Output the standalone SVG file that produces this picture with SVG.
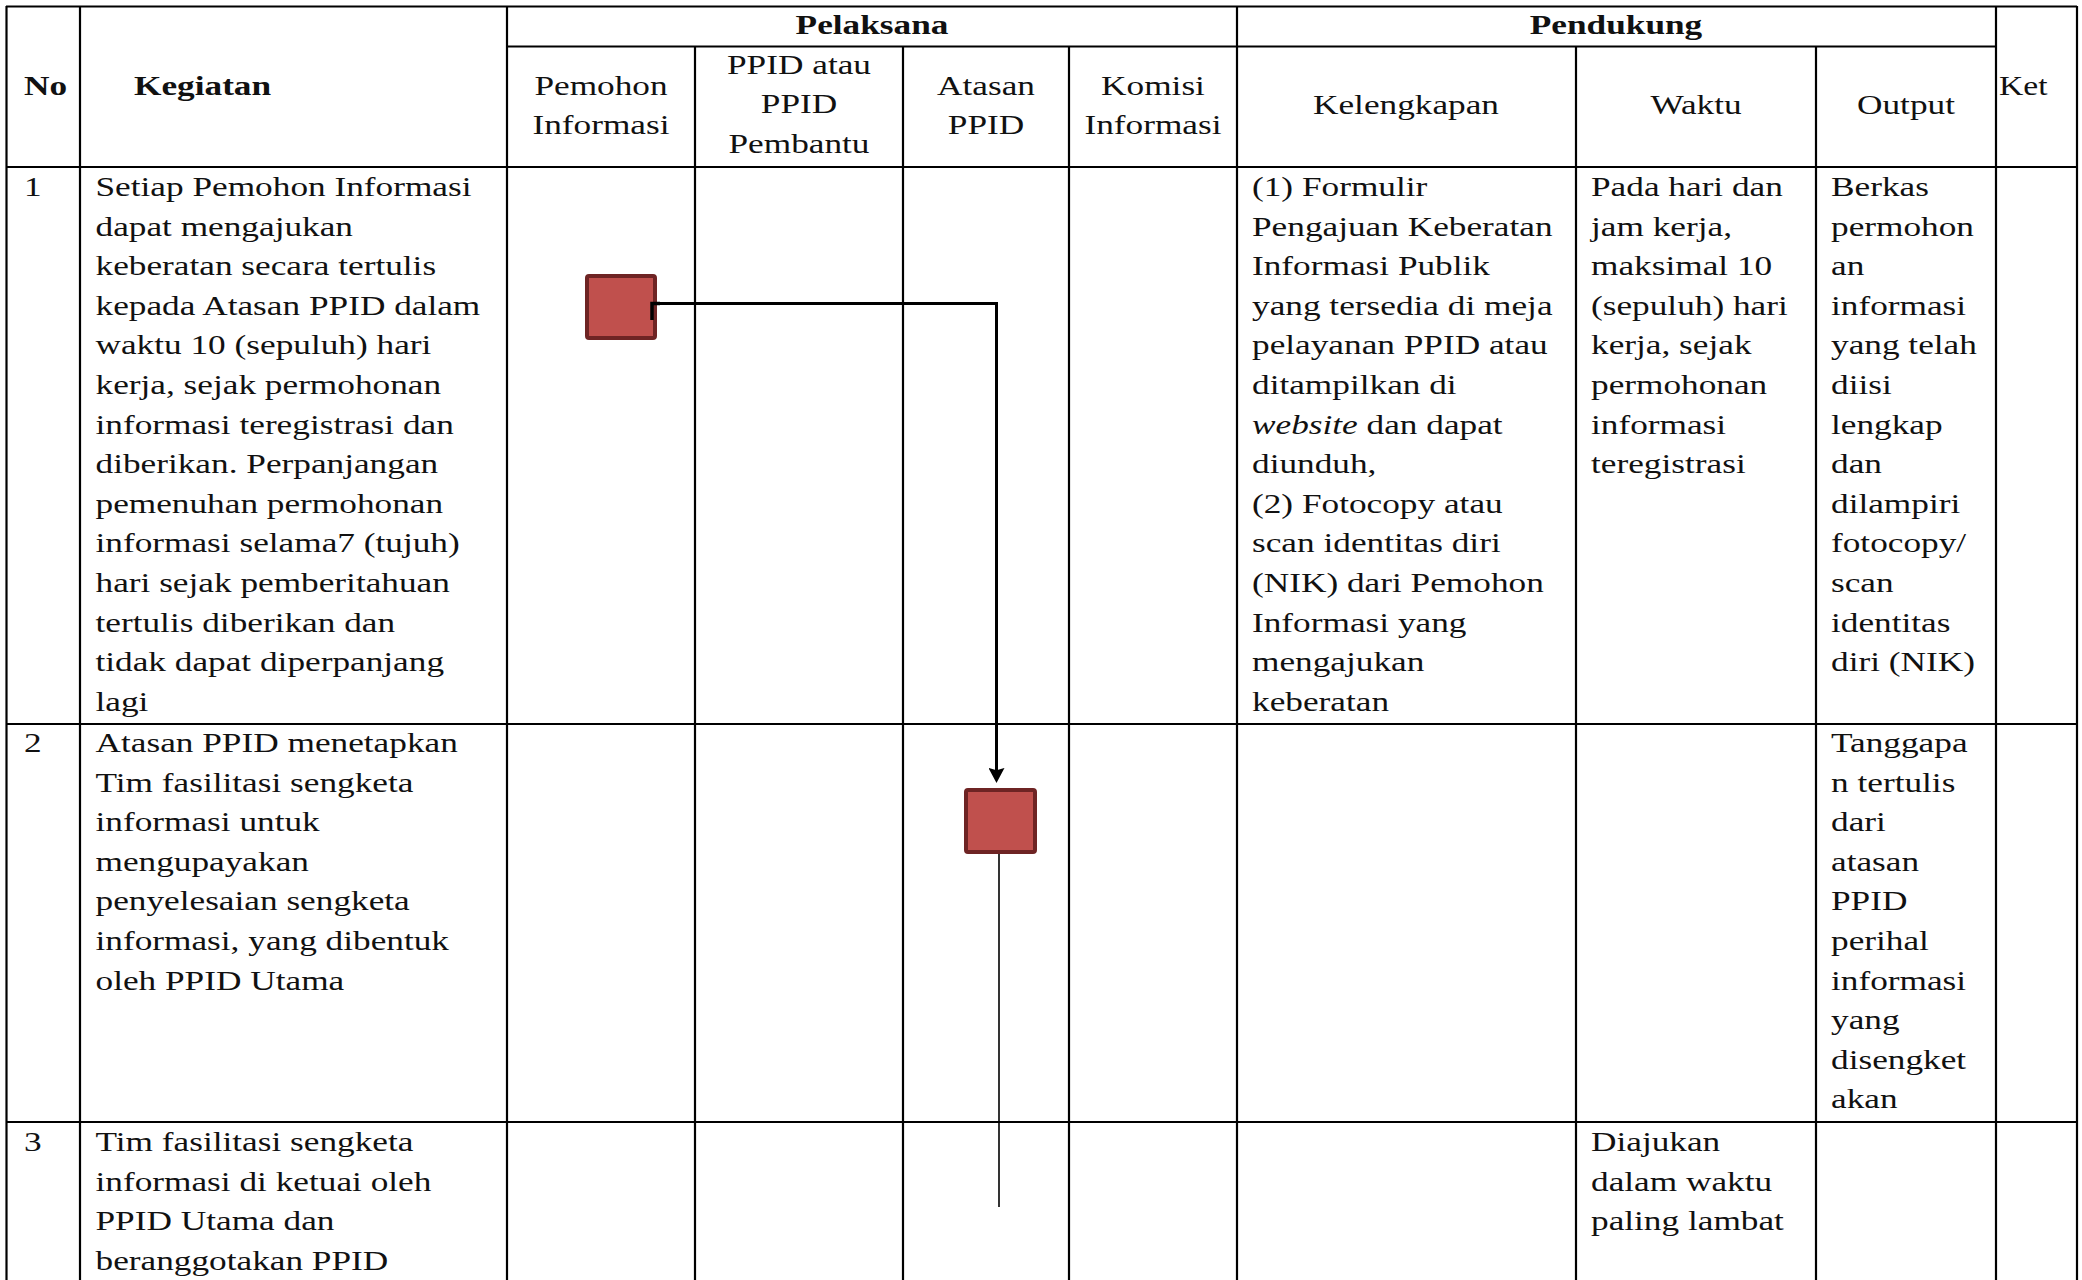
<svg xmlns="http://www.w3.org/2000/svg" width="2082" height="1280" viewBox="0 0 2082 1280">
<style>
  .grid line { stroke: #000; stroke-width: 2.2; }
  .t { font-family: "Liberation Serif", "Times New Roman", serif; font-size: 28px; fill: #111; }
  .b { font-weight: bold; }
  .box { fill: #C0504D; stroke: #6E2424; stroke-width: 4; }
  .conn { fill: none; stroke: #000; stroke-width: 3; }
</style>
<defs>
  <marker id="arrow" markerWidth="15" markerHeight="16" refX="4.7" refY="5" orient="auto" markerUnits="userSpaceOnUse" viewBox="0 0 10 10" preserveAspectRatio="none">
    <path d="M0,0 L10,5 L0,10 L1.5,5 z" fill="#000"/>
  </marker>
</defs>
<rect width="2082" height="1280" fill="#fff"/>

<g id="grid" class="grid">
  <line x1="6" y1="6.5" x2="2077" y2="6.5"/>
  <line x1="507" y1="46.5" x2="1996" y2="46.5"/>
  <line x1="6" y1="167" x2="2077" y2="167"/>
  <line x1="6" y1="724" x2="2077" y2="724"/>
  <line x1="6" y1="1122" x2="2077" y2="1122"/>
  <line x1="6.5" y1="6" x2="6.5" y2="1280"/>
  <line x1="80" y1="6" x2="80" y2="1280"/>
  <line x1="507" y1="6" x2="507" y2="1280"/>
  <line x1="695" y1="46.5" x2="695" y2="1280"/>
  <line x1="903" y1="46.5" x2="903" y2="1280"/>
  <line x1="1069" y1="46.5" x2="1069" y2="1280"/>
  <line x1="1237" y1="6" x2="1237" y2="1280"/>
  <line x1="1576" y1="46.5" x2="1576" y2="1280"/>
  <line x1="1816" y1="46.5" x2="1816" y2="1280"/>
  <line x1="1996" y1="6" x2="1996" y2="1280"/>
  <line x1="2077" y1="6" x2="2077" y2="1280"/>
</g>

<g id="header">
  <text class="t b" transform="translate(24,95) scale(1.26,1)">No</text>
  <text class="t b" transform="translate(134,95) scale(1.26,1)">Kegiatan</text>
  <text class="t b" text-anchor="middle" transform="translate(872,34) scale(1.26,1)">Pelaksana</text>
  <text class="t b" text-anchor="middle" transform="translate(1616,34) scale(1.26,1)">Pendukung</text>
  <text class="t" text-anchor="middle" transform="translate(601,95) scale(1.26,1)"><tspan x="0" y="0">Pemohon</tspan><tspan x="0" y="39.5">Informasi</tspan></text>
  <text class="t" text-anchor="middle" transform="translate(799,74) scale(1.26,1)"><tspan x="0" y="0">PPID  atau</tspan><tspan x="0" y="39.5">PPID</tspan><tspan x="0" y="79">Pembantu</tspan></text>
  <text class="t" text-anchor="middle" transform="translate(986,95) scale(1.26,1)"><tspan x="0" y="0">Atasan</tspan><tspan x="0" y="39.5">PPID</tspan></text>
  <text class="t" text-anchor="middle" transform="translate(1153,95) scale(1.26,1)"><tspan x="0" y="0">Komisi</tspan><tspan x="0" y="39.5">Informasi</tspan></text>
  <text class="t" text-anchor="middle" transform="translate(1406,114) scale(1.26,1)">Kelengkapan</text>
  <text class="t" text-anchor="middle" transform="translate(1696,114) scale(1.26,1)">Waktu</text>
  <text class="t" text-anchor="middle" transform="translate(1906,114) scale(1.26,1)">Output</text>
  <text class="t" transform="translate(1999,95) scale(1.2,1)">Ket</text>
</g>

<g id="row1">
  <text class="t" transform="translate(24,196) scale(1.26,1)">1</text>
  <text class="t" transform="translate(95.5,196) scale(1.26,1)">
    <tspan x="0" y="0">Setiap Pemohon Informasi</tspan>
    <tspan x="0" y="39.6">dapat mengajukan</tspan>
    <tspan x="0" y="79.2">keberatan secara tertulis</tspan>
    <tspan x="0" y="118.8">kepada Atasan PPID  dalam</tspan>
    <tspan x="0" y="158.4">waktu 10  (sepuluh) hari</tspan>
    <tspan x="0" y="198">kerja, sejak permohonan</tspan>
    <tspan x="0" y="237.6">informasi teregistrasi dan</tspan>
    <tspan x="0" y="277.2">diberikan. Perpanjangan</tspan>
    <tspan x="0" y="316.8">pemenuhan permohonan</tspan>
    <tspan x="0" y="356.4">informasi selama7 (tujuh)</tspan>
    <tspan x="0" y="396">hari sejak pemberitahuan</tspan>
    <tspan x="0" y="435.6">tertulis diberikan dan</tspan>
    <tspan x="0" y="475.2">tidak dapat diperpanjang</tspan>
    <tspan x="0" y="514.8">lagi</tspan>
  </text>
  <text class="t" transform="translate(1252,196) scale(1.26,1)">
    <tspan x="0" y="0">(1) Formulir</tspan>
    <tspan x="0" y="39.6">Pengajuan Keberatan</tspan>
    <tspan x="0" y="79.2">Informasi Publik</tspan>
    <tspan x="0" y="118.8">yang tersedia di meja</tspan>
    <tspan x="0" y="158.4">pelayanan PPID atau</tspan>
    <tspan x="0" y="198">ditampilkan di</tspan>
    <tspan x="0" y="237.6"><tspan font-style="italic">website</tspan> dan dapat</tspan>
    <tspan x="0" y="277.2">diunduh,</tspan>
    <tspan x="0" y="316.8">(2) Fotocopy atau</tspan>
    <tspan x="0" y="356.4">scan identitas diri</tspan>
    <tspan x="0" y="396">(NIK) dari Pemohon</tspan>
    <tspan x="0" y="435.6">Informasi yang</tspan>
    <tspan x="0" y="475.2">mengajukan</tspan>
    <tspan x="0" y="514.8">keberatan</tspan>
  </text>
  <text class="t" transform="translate(1591,196) scale(1.26,1)">
    <tspan x="0" y="0">Pada hari dan</tspan>
    <tspan x="0" y="39.6">jam kerja,</tspan>
    <tspan x="0" y="79.2">maksimal 10</tspan>
    <tspan x="0" y="118.8">(sepuluh) hari</tspan>
    <tspan x="0" y="158.4">kerja, sejak</tspan>
    <tspan x="0" y="198">permohonan</tspan>
    <tspan x="0" y="237.6">informasi</tspan>
    <tspan x="0" y="277.2">teregistrasi</tspan>
  </text>
  <text class="t" transform="translate(1831,196) scale(1.26,1)">
    <tspan x="0" y="0">Berkas</tspan>
    <tspan x="0" y="39.6">permohon</tspan>
    <tspan x="0" y="79.2">an</tspan>
    <tspan x="0" y="118.8">informasi</tspan>
    <tspan x="0" y="158.4">yang telah</tspan>
    <tspan x="0" y="198">diisi</tspan>
    <tspan x="0" y="237.6">lengkap</tspan>
    <tspan x="0" y="277.2">dan</tspan>
    <tspan x="0" y="316.8">dilampiri</tspan>
    <tspan x="0" y="356.4">fotocopy/</tspan>
    <tspan x="0" y="396">scan</tspan>
    <tspan x="0" y="435.6">identitas</tspan>
    <tspan x="0" y="475.2">diri (NIK)</tspan>
  </text>
</g>

<g id="row2">
  <text class="t" transform="translate(24,752) scale(1.26,1)">2</text>
  <text class="t" transform="translate(95.5,752) scale(1.26,1)">
    <tspan x="0" y="0">Atasan PPID  menetapkan</tspan>
    <tspan x="0" y="39.6">Tim fasilitasi sengketa</tspan>
    <tspan x="0" y="79.2">informasi untuk</tspan>
    <tspan x="0" y="118.8">mengupayakan</tspan>
    <tspan x="0" y="158.4">penyelesaian sengketa</tspan>
    <tspan x="0" y="198">informasi, yang dibentuk</tspan>
    <tspan x="0" y="237.6">oleh PPID  Utama</tspan>
  </text>
  <text class="t" transform="translate(1831,752) scale(1.26,1)">
    <tspan x="0" y="0">Tanggapa</tspan>
    <tspan x="0" y="39.6">n tertulis</tspan>
    <tspan x="0" y="79.2">dari</tspan>
    <tspan x="0" y="118.8">atasan</tspan>
    <tspan x="0" y="158.4">PPID</tspan>
    <tspan x="0" y="198">perihal</tspan>
    <tspan x="0" y="237.6">informasi</tspan>
    <tspan x="0" y="277.2">yang</tspan>
    <tspan x="0" y="316.8">disengket</tspan>
    <tspan x="0" y="356.4">akan</tspan>
  </text>
</g>

<g id="row3">
  <text class="t" transform="translate(24,1151) scale(1.26,1)">3</text>
  <text class="t" transform="translate(95.5,1151) scale(1.26,1)">
    <tspan x="0" y="0">Tim fasilitasi sengketa</tspan>
    <tspan x="0" y="39.6">informasi di ketuai oleh</tspan>
    <tspan x="0" y="79.2">PPID  Utama dan</tspan>
    <tspan x="0" y="118.8">beranggotakan PPID</tspan>
  </text>
  <text class="t" transform="translate(1591,1151) scale(1.26,1)">
    <tspan x="0" y="0">Diajukan</tspan>
    <tspan x="0" y="39.6">dalam waktu</tspan>
    <tspan x="0" y="79.2">paling lambat</tspan>
  </text>
</g>

<g id="connectors">
  <path class="conn" d="M652,320 V303.5 H996.5 V775" marker-end="url(#arrow)"/>
  <line x1="999" y1="854" x2="999" y2="1207" stroke="#000" stroke-width="1.6"/>
</g>

<g id="node-1">
  <rect class="box" x="587" y="276" width="68" height="62" rx="2"/>
</g>
<g id="node-2">
  <rect class="box" x="966" y="790" width="69" height="62" rx="2"/>
</g>
<path d="M652,320 V303.5 H660" fill="none" stroke="#000" stroke-width="3.5"/>
</svg>
